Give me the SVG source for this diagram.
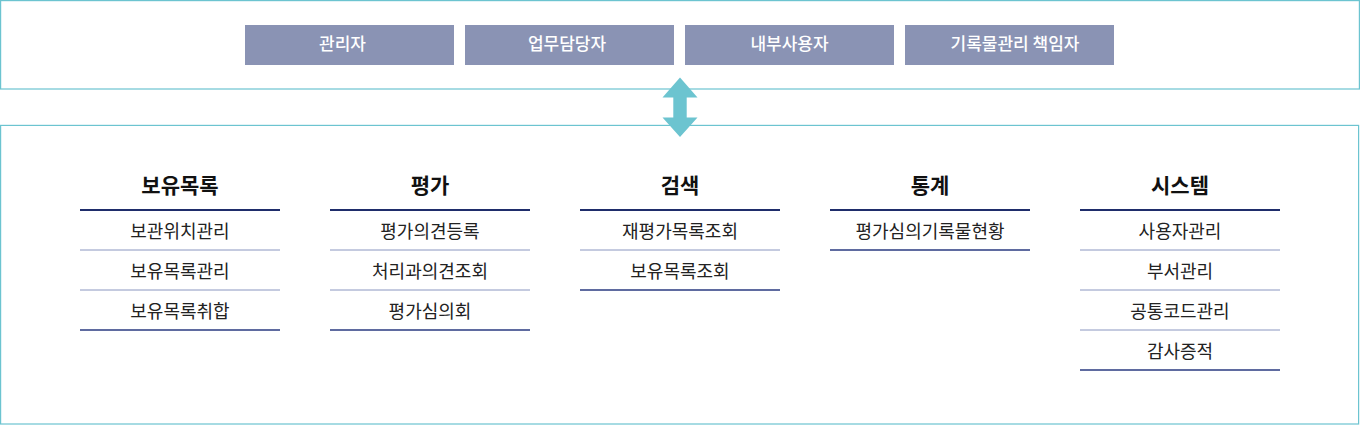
<svg xmlns="http://www.w3.org/2000/svg" width="1360" height="425" viewBox="0 0 1360 425">
<style>
.frame{fill:#fff;stroke:#6cc4d0;stroke-width:1.2}
.role rect{fill:#8a93b4}
.role text{fill:#fff;font-family:"Noto Sans CJK KR","Noto Sans",sans-serif;font-size:17px;font-weight:500;text-anchor:middle}
.head{fill:#111;font-family:"Noto Sans CJK KR","Noto Sans",sans-serif;font-size:21px;font-weight:700;text-anchor:middle}
.item{fill:#222;font-family:"Noto Sans CJK KR","Noto Sans",sans-serif;font-size:18px;text-anchor:middle}
.thick{stroke:#1f2d6b;stroke-width:2}
.thin{stroke:#8a96c0;stroke-width:1}
.end{stroke:#2a3a80;stroke-width:1.3}
</style>
<rect class="frame" x="0.6" y="0.6" width="1358.8" height="88.4"/>
<rect class="frame" x="0.6" y="125.4" width="1358" height="298.6"/>
<g id="role-admin" class="role"><rect x="245" y="25" width="209" height="40"/><text x="342.5" y="50">관리자</text></g>
<g id="role-staff" class="role"><rect x="465" y="25" width="209" height="40"/><text x="567" y="50">업무담당자</text></g>
<g id="role-user" class="role"><rect x="685" y="25" width="209" height="40"/><text x="789.5" y="50">내부사용자</text></g>
<g id="role-manager" class="role"><rect x="905" y="25" width="209" height="40"/><text x="1015" y="50">기록물관리 책임자</text></g>
<g id="connectors">
<polygon fill="#6cc4d0" points="680,77.5 697.5,97.5 686.7,97.5 686.7,117.5 697.5,117.5 680,137 662.5,117.5 673.3,117.5 673.3,97.5 662.5,97.5"/>
</g>
<g id="col-holding">
<text class="head" x="180" y="193">보유목록</text>
<line class="thick" x1="80" y1="210" x2="280" y2="210"/>
<text class="item" x="180" y="238">보관위치관리</text>
<line class="thin" x1="80" y1="250" x2="280" y2="250"/>
<text class="item" x="180" y="278">보유목록관리</text>
<line class="thin" x1="80" y1="290" x2="280" y2="290"/>
<text class="item" x="180" y="318">보유목록취합</text>
<line class="end" x1="80" y1="330" x2="280" y2="330"/>
</g>
<g id="col-eval">
<text class="head" x="430" y="193">평가</text>
<line class="thick" x1="330" y1="210" x2="530" y2="210"/>
<text class="item" x="430" y="238">평가의견등록</text>
<line class="thin" x1="330" y1="250" x2="530" y2="250"/>
<text class="item" x="430" y="278">처리과의견조회</text>
<line class="thin" x1="330" y1="290" x2="530" y2="290"/>
<text class="item" x="430" y="318">평가심의회</text>
<line class="end" x1="330" y1="330" x2="530" y2="330"/>
</g>
<g id="col-search">
<text class="head" x="680" y="193">검색</text>
<line class="thick" x1="580" y1="210" x2="780" y2="210"/>
<text class="item" x="680" y="238">재평가목록조회</text>
<line class="thin" x1="580" y1="250" x2="780" y2="250"/>
<text class="item" x="680" y="278">보유목록조회</text>
<line class="end" x1="580" y1="290" x2="780" y2="290"/>
</g>
<g id="col-stats">
<text class="head" x="930" y="193">통계</text>
<line class="thick" x1="830" y1="210" x2="1030" y2="210"/>
<text class="item" x="930" y="238">평가심의기록물현황</text>
<line class="end" x1="830" y1="250" x2="1030" y2="250"/>
</g>
<g id="col-system">
<text class="head" x="1180" y="193">시스템</text>
<line class="thick" x1="1080" y1="210" x2="1280" y2="210"/>
<text class="item" x="1180" y="238">사용자관리</text>
<line class="thin" x1="1080" y1="250" x2="1280" y2="250"/>
<text class="item" x="1180" y="278">부서관리</text>
<line class="thin" x1="1080" y1="290" x2="1280" y2="290"/>
<text class="item" x="1180" y="318">공통코드관리</text>
<line class="thin" x1="1080" y1="330" x2="1280" y2="330"/>
<text class="item" x="1180" y="358">감사증적</text>
<line class="end" x1="1080" y1="370" x2="1280" y2="370"/>
</g>
</svg>
